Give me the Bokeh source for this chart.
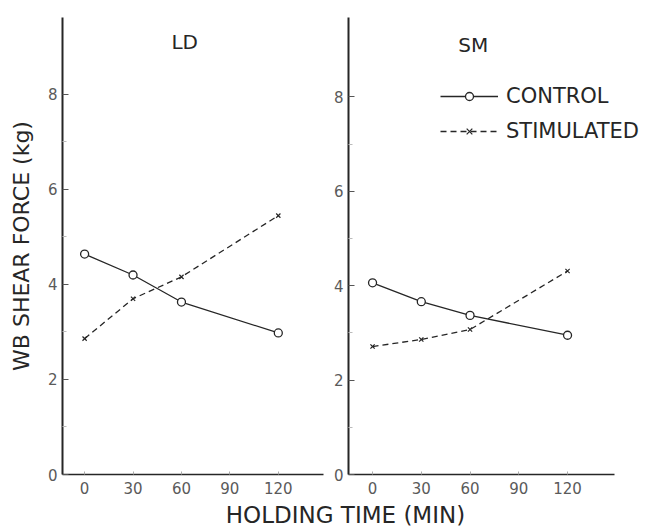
from bokeh.plotting import figure
from bokeh.layouts import row, column
from bokeh.models import FixedTicker, Label, Legend, LegendItem, Range1d
from bokeh.embed import file_html
from bokeh.resources import INLINE

# Warner-Bratzler shear force (kg) against holding time (min)
holding_time = [0, 30, 60, 120]
ld_control = [4.64, 4.20, 3.63, 2.98]
ld_stimulated = [2.86, 3.70, 4.16, 5.45]
sm_control = [4.06, 3.66, 3.37, 2.95]
sm_stimulated = [2.71, 2.86, 3.07, 4.31]

x_ticks = [0, 30, 60, 90, 120]
y_ticks = [0, 2, 4, 6, 8]
y_minor = [1, 3, 5, 7]

FONT = "DejaVu Sans"
INK = "#262626"
TICK_TEXT = "#5a5a5a"


def panel(name, control, stimulated, width, left, right, top, xr, xbounds, ytop, y_title):
    p = figure(width=width, height=497, output_backend="svg", toolbar_location=None,
               x_range=Range1d(*xr), y_range=Range1d(0, ytop),
               min_border_left=left, min_border_right=right,
               min_border_top=top, min_border_bottom=23)
    p.outline_line_color = None
    p.grid.visible = False
    p.background_fill_color = "white"
    p.border_fill_color = "white"

    p.xaxis.ticker = FixedTicker(ticks=x_ticks)
    p.xaxis.bounds = xbounds
    p.yaxis.ticker = FixedTicker(ticks=y_ticks, minor_ticks=y_minor)
    for ax in (p.xaxis[0], p.yaxis[0]):
        ax.major_label_text_font = FONT
        ax.major_label_text_font_size = "15px"
        ax.major_label_text_color = TICK_TEXT
        ax.major_tick_out = 0
        ax.minor_tick_out = 0
        ax.axis_line_color = INK
    p.yaxis.axis_line_width = 2
    p.xaxis.axis_line_width = 1.6
    p.yaxis.major_tick_in = 6
    p.yaxis.major_tick_line_color = "#555555"
    p.yaxis.minor_tick_in = 4
    p.yaxis.minor_tick_line_color = "#bbbbbb"
    p.xaxis.major_tick_in = 3
    p.xaxis.major_tick_line_color = "#aaaaaa"
    p.yaxis.major_label_standoff = 5
    p.xaxis.major_label_standoff = 7

    if y_title:
        p.yaxis.axis_label = y_title
        p.yaxis.axis_label_text_font = FONT
        p.yaxis.axis_label_text_font_size = "22px"
        p.yaxis.axis_label_text_font_style = "normal"
        p.yaxis.axis_label_text_color = INK
        p.yaxis.axis_label_standoff = 11

    c_line = p.line(holding_time, control, line_color=INK, line_width=1.3)
    c_pts = p.scatter(holding_time, control, marker="circle", size=8,
                      fill_color="white", line_color=INK, line_width=1.3)
    s_line = p.line(holding_time, stimulated, line_color=INK, line_width=1.3,
                    line_dash="6 4")
    s_pts = p.scatter(holding_time, stimulated, marker="x", size=6,
                      line_color=INK, line_width=1.2)

    p.add_layout(Label(x=62, y=8.85, text=name, text_align="center",
                       text_font=FONT, text_font_size="20px", text_color=INK))
    return p, (c_line, c_pts, s_line, s_pts)


p_ld, _ = panel("LD", ld_control, ld_stimulated, 330, 62, 7, 17,
                (-13.7, 148), (-13.7, 148), 9.62, "WB SHEAR FORCE (kg)")
# the SM frame runs to the page edge so the legend has room; the axis stops at 149
p_sm, (c_line, c_pts, s_line, s_pts) = panel("SM", sm_control, sm_stimulated, 323, 18, 0, 13,
                                             (-14.8, 172.9), (-14.8, 149), 9.68, None)

legend = Legend(items=[LegendItem(label="CONTROL", renderers=[c_line, c_pts]),
                       LegendItem(label="STIMULATED", renderers=[s_line, s_pts])],
                location=(92, 331), padding=0, margin=0, spacing=11,
                glyph_width=58, glyph_height=20, label_height=20, label_standoff=8,
                label_text_font=FONT, label_text_font_size="21px",
                label_text_color=INK, border_line_color=None,
                background_fill_alpha=0)
p_sm.add_layout(legend)

# shared horizontal axis title beneath both panels
title_fig = figure(width=653, height=32, output_backend="svg", toolbar_location=None,
                   x_range=Range1d(0, 653), y_range=Range1d(0, 32),
                   min_border=0)
title_fig.axis.visible = False
title_fig.grid.visible = False
title_fig.outline_line_color = None
title_fig.add_layout(Label(x=345, y=2, text="HOLDING TIME (MIN)", text_align="center",
                           text_baseline="bottom", text_font=FONT,
                           text_font_size="23px", text_color=INK))

layout = column(row(p_ld, p_sm, spacing=0), title_fig, spacing=0)

open("out.html", "w").write(file_html(layout, INLINE))
